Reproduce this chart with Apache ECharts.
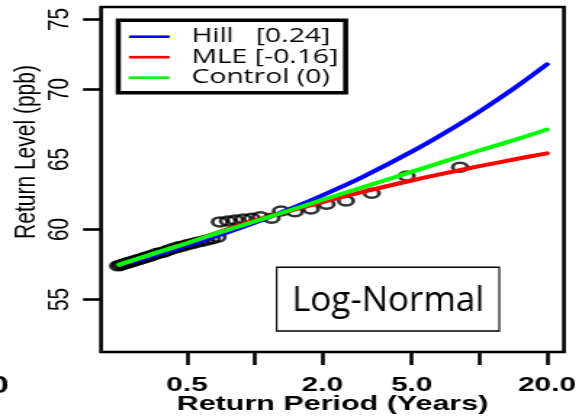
<!DOCTYPE html>
<html>
<head>
<meta charset="utf-8">
<script src="https://cdn.jsdelivr.net/npm/echarts@6/dist/echarts.min.js"></script>
<style>
  html, body { margin: 0; padding: 0; background: #fff; overflow: hidden; }
  /* the plot is laid out on a narrower canvas and widened horizontally */
  #chart { width: 401px; height: 420px; transform: scaleX(1.45137); transform-origin: 0 0; }
</style>
</head>
<body>
<div id="chart"></div>
<script>
// Return periods (years) at which the fitted curves are evaluated
const curvePeriods = [0.25, 0.35, 0.5, 0.7, 1, 1.5, 2, 3, 5, 7, 10, 15, 20];
// Fitted return levels (ppb)
const hillLevels    = [57.45, 58.10, 58.84, 59.61, 60.49, 61.59, 62.44, 63.73, 65.56, 66.89, 68.42, 70.33, 71.80];
const mleLevels     = [57.48, 58.24, 59.03, 59.83, 60.63, 61.42, 61.96, 62.67, 63.50, 64.01, 64.52, 65.07, 65.44];
const controlLevels = [57.49, 58.24, 59.02, 59.79, 60.57, 61.46, 62.11, 62.99, 64.11, 64.86, 65.64, 66.49, 67.14];

// Observed exceedances: empirical return period and level
const obsPeriods = [8.2, 4.75, 3.32, 2.55, 2.09, 1.78, 1.51, 1.31, 1.19, 1.06, 0.97, 0.89, 0.82, 0.76, 0.70,
  0.684, 0.645, 0.610, 0.578, 0.550, 0.524, 0.501, 0.479, 0.460, 0.442, 0.425, 0.409, 0.395, 0.381, 0.369,
  0.357, 0.346, 0.336, 0.326, 0.317, 0.308, 0.300, 0.292, 0.285, 0.277, 0.271, 0.264, 0.258, 0.252, 0.247];
const obsLevels = [64.44, 63.82, 62.59, 62.04, 61.80, 61.46, 61.27, 61.32, 60.80, 60.91, 60.80, 60.75, 60.68, 60.61, 60.54,
  59.45, 59.33, 59.24, 59.15, 59.07, 58.99, 58.91, 58.82, 58.76, 58.68, 58.59, 58.50, 58.40, 58.33, 58.30,
  58.20, 58.12, 58.05, 58.01, 57.93, 57.88, 57.82, 57.77, 57.70, 57.66, 57.60, 57.55, 57.50, 57.45, 57.40];

const seriesNames = ['Hill   [0.24]', 'MLE [-0.16]', 'Control (0)'];
const seriesColors = ['#0000ff', '#ff0000', '#00ff00'];
const xTicks = [0.5, 1, 2, 5, 10, 20];
const xTickLabels = [0.5, 2, 5, 20];
const yTicks = [55, 60, 70, 75];
const yTickLabels = [55, 60, 65, 70, 75];

const widen = 582 / 401;
const pairs = (xs, ys) => xs.map((x, i) => [x, ys[i]]);
const curves = [hillLevels, mleLevels, controlLevels];

const chart = echarts.init(document.getElementById('chart'), null, { renderer: 'canvas', width: 401, height: 420 });

const lineSeries = curves.map((levels, i) => ({
  name: seriesNames[i],
  type: 'line',
  data: pairs(curvePeriods, levels),
  symbol: 'none',
  smooth: 0.3,
  color: seriesColors[i],
  lineStyle: { color: seriesColors[i], width: 4, cap: 'round', join: 'round' },
  z: 3
}));

chart.setOption({
  animation: false,
  grid: {
    left: 101 / widen, right: 401 - 564 / widen, top: 7, bottom: 68,
    outerBoundsMode: 'none', containLabel: false,
    show: true, borderColor: '#000', borderWidth: 2.6, backgroundColor: '#fff'
  },
  xAxis: {
    type: 'log', logBase: 10, min: 0.2072, max: 23.8,
    name: 'Return Period (Years)', nameLocation: 'middle', nameGap: 42, nameMoveOverlap: false,
    nameTextStyle: { fontFamily: 'Liberation Sans', fontWeight: 'bold', fontSize: 21, color: '#000' },
    axisLine: { show: false },
    splitLine: { show: false },
    minorTick: { show: false },
    axisTick: { show: true, length: 13, customValues: xTicks, lineStyle: { color: '#000', width: 2.6 } },
    axisLabel: {
      customValues: xTickLabels, margin: 23, color: '#000',
      fontFamily: 'Liberation Sans', fontWeight: 'bold', fontSize: 20.5,
      formatter: v => Number(v).toFixed(1)
    }
  },
  yAxis: {
    type: 'value', min: 51.25, max: 75.89,
    axisLine: { show: false },
    splitLine: { show: false },
    axisTick: { show: true, length: 12.4, customValues: yTicks, lineStyle: { color: '#000', width: 2.6 } },
    axisLabel: {
      customValues: yTickLabels, rotate: 90, margin: 18, color: '#000',
      fontFamily: 'Liberation Sans', fontSize: 20.7
    }
  },
  legend: {
    orient: 'vertical', left: 81.5, top: 20.3,
    data: seriesNames,
    icon: 'rect', itemWidth: 28, itemHeight: 2.6, itemGap: 0.5,
    padding: [6.4, 5, 5, 7.4],
    borderColor: '#000', borderWidth: 3.5, backgroundColor: '#fff',
    selectedMode: false,
    textStyle: { fontFamily: 'Open Sans', fontSize: 19.5, lineHeight: 20, color: '#000', padding: [0, 0, 0, 10] }
  },
  graphic: [
    {
      type: 'text', x: 18.6, y: 152, rotation: Math.PI / 2,
      style: { text: 'Return Level (ppb)', fontFamily: 'Liberation Sans', fontSize: 21, fill: '#000', align: 'center', verticalAlign: 'middle' }
    },
    {
      type: 'text', x: 6, y: 386,
      style: { text: '0', fontFamily: 'Liberation Sans', fontWeight: 'bold', fontSize: 24, fill: '#000', align: 'right', verticalAlign: 'middle' }
    },
    {
      type: 'group', x: 388 / widen, y: 0, scaleX: 1 / widen, z: 10,
      children: [
        { type: 'rect', shape: { x: -111.3, y: 267.3, width: 222.6, height: 63.7 }, style: { fill: '#fff', stroke: '#000', lineWidth: 1.6 } },
        { type: 'text', x: 0, y: 301, style: { text: 'Log-Normal', fontFamily: 'Open Sans', fontSize: 35, fill: '#000', align: 'center', verticalAlign: 'middle' } }
      ]
    }
  ],
  series: [
    {
      name: 'observed', type: 'scatter',
      data: pairs(obsPeriods, obsLevels),
      symbol: 'circle', symbolSize: [10, 9],
      itemStyle: { color: 'rgba(0,0,0,0)', borderColor: '#000', borderWidth: 2.6 },
      z: 2
    }
  ].concat(lineSeries)
});
</script>
</body>
</html>
